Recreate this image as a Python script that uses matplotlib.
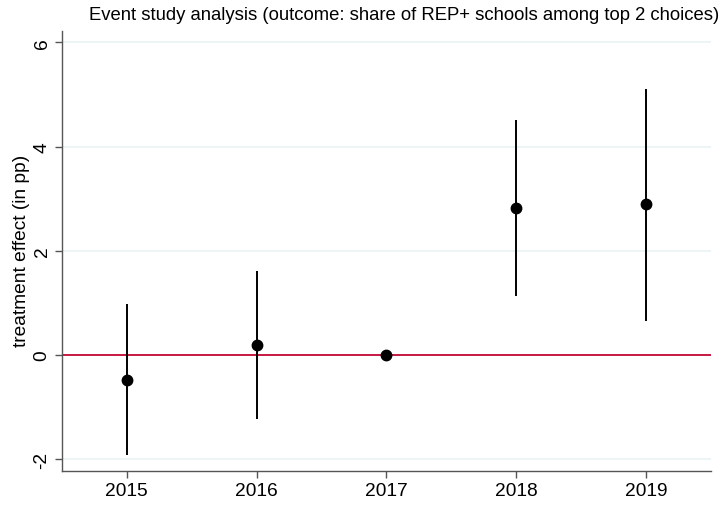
import matplotlib
matplotlib.use('Agg')
import matplotlib.pyplot as plt

years = [2015, 2016, 2017, 2018, 2019]
coef = [-0.47, 0.20, 0.0, 2.83, 2.89]
ci_low = [-1.91, -1.22, 0.0, 1.13, 0.66]
ci_high = [0.98, 1.62, 0.0, 4.52, 5.10]

plt.rcParams['font.family'] = ['Liberation Sans', 'DejaVu Sans']

fig = plt.figure(figsize=(7.24, 5.06), dpi=100)
ax = fig.add_axes([0.0852, 0.0678, 0.897, 0.869])

ax.set_xlim(2014.5, 2019.5)
ax.set_ylim(-2.22, 6.22)

for y in [-2, 2, 4, 6]:
    ax.axhline(y, color='#eaf2f3', lw=1.2, zorder=0)
ax.axhline(0, color='#c10534', lw=1.3, zorder=1)

ax.vlines(years, ci_low, ci_high, color='black', lw=1.4, zorder=2)
ax.plot(years, coef, 'o', color='black', ms=7.5, zorder=3)

ax.set_xticks(years)
ax.set_yticks([-2, 0, 2, 4, 6])
ax.set_yticklabels(['-2', '0', '2', '4', '6'], rotation=90, va='center')
ax.tick_params(axis='both', labelsize=13.8, length=5, color='#555555', width=1)
ax.tick_params(axis='x', pad=3)
ax.tick_params(axis='y', pad=3)

for s in ['top', 'right']:
    ax.spines[s].set_visible(False)
for s in ['left', 'bottom']:
    ax.spines[s].set_color('#555555')
    ax.spines[s].set_linewidth(1)

fig.text(22 / 724, 1 - 251 / 506, 'treatment effect (in pp)', fontsize=13.8,
         rotation=90, ha='center', va='center')
fig.text(719 / 724, 1 - 16 / 506,
         'Event study analysis (outcome: share of REP+ schools among top 2 choices)',
         fontsize=13.3, ha='right', va='center')

fig.savefig('out.png', dpi=100)
